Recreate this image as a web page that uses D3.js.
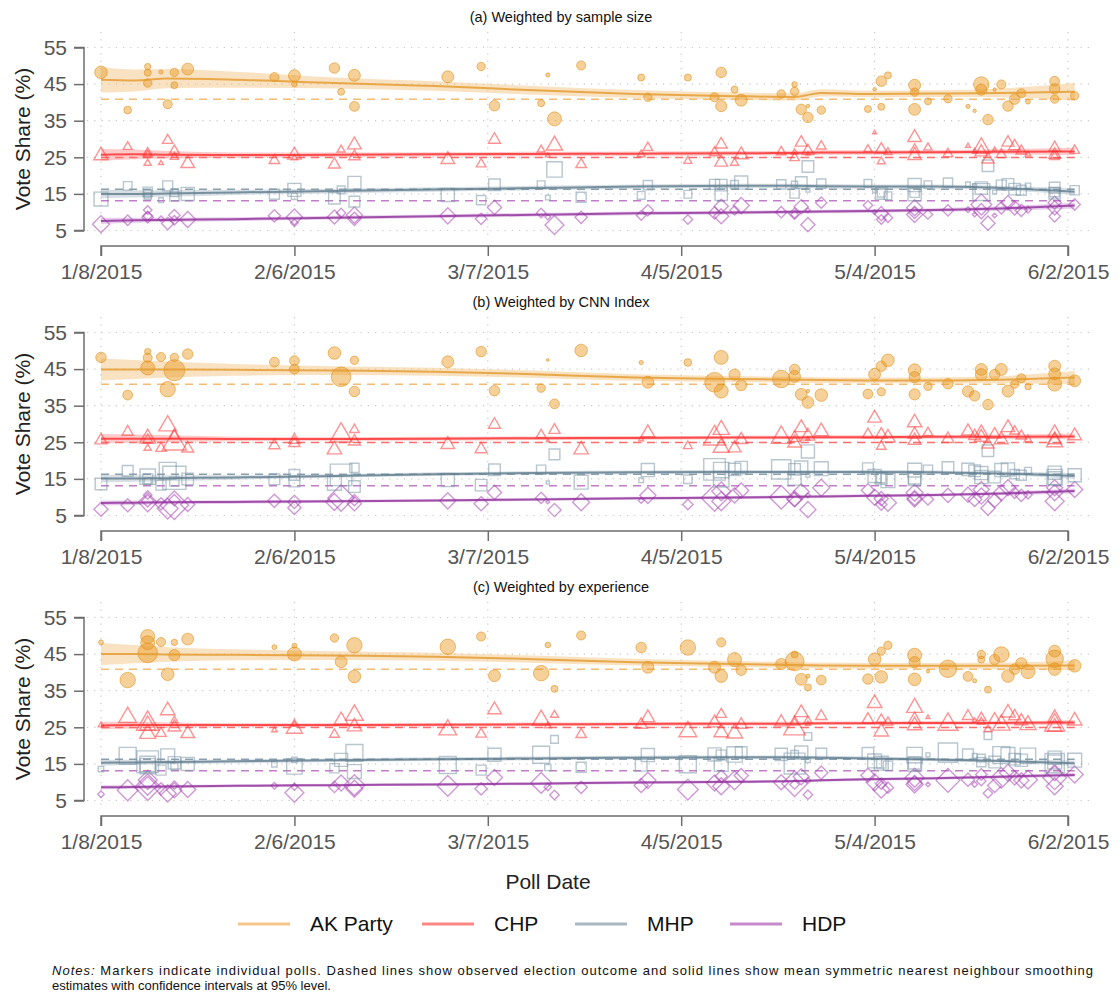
<!DOCTYPE html>
<html>
<head>
<meta charset="utf-8">
<script src="https://cdn.jsdelivr.net/npm/d3@7"></script>
<style>
  body { margin: 0; background: #fff; }
  svg { display: block; font-family: "Liberation Sans", Arial, sans-serif; }
</style>
</head>
<body>
<svg id="chart" width="1119" height="996"></svg>
<script>
// ---- Individual polls (fieldwork date, vote shares in %, and the three weights) ----
const pollDates = [
  "2015-01-08","2015-01-12","2015-01-15","2015-01-15","2015-01-15","2015-01-17","2015-01-18","2015-01-19",
  "2015-01-19","2015-01-21","2015-02-03","2015-02-06","2015-02-06","2015-02-12","2015-02-13","2015-02-15",
  "2015-02-15","2015-03-01","2015-03-06","2015-03-08","2015-03-15","2015-03-16","2015-03-17","2015-03-21",
  "2015-03-30","2015-03-31","2015-04-06","2015-04-10","2015-04-11","2015-04-11","2015-04-13","2015-04-14",
  "2015-04-20","2015-04-22","2015-04-22","2015-04-23","2015-04-24","2015-04-24","2015-04-26","2015-05-03",
  "2015-05-04","2015-05-05","2015-05-05","2015-05-06","2015-05-10","2015-05-10","2015-05-10","2015-05-12",
  "2015-05-15","2015-05-18","2015-05-19","2015-05-20","2015-05-20","2015-05-21","2015-05-22","2015-05-23",
  "2015-05-24","2015-05-25","2015-05-26","2015-05-27","2015-05-31","2015-05-31","2015-05-31","2015-06-03"
];
const akParty = [
  48.2,37.9,49.8,48.1,45.3,48.3,39.5,48.2, 44.7,49.1,46.9,47.3,45.0,49.4,42.9,47.4,
  38.9,47.0,49.8,39.1,39.8,47.5,35.5,50.1, 46.8,41.4,46.8,41.4,48.2,39.0,43.5,40.6,
  42.3,44.9,43.0,38.1,35.9,39.0,37.9,38.2, 43.6,45.8,38.8,47.4,44.7,42.8,38.1,40.3,
  41.0,38.9,37.7,44.9,43.5,35.3,43.5,44.9, 39.0,40.9,42.5,40.2,45.8,43.7,40.9,41.8
];
const chp = [
  25.7,28.0,23.5,25.8,26.3,23.5,29.8,27.0, 25.2,23.5,24.3,25.8,24.9,23.2,27.2,28.6,
  25.4,24.6,23.3,30.0,27.2,25.5,28.5,23.2, 25.9,27.8,24.1,26.4,28.7,23.8,23.6,25.9,
  26.6,26.4,25.0,29.2,26.9,26.0,28.2,27.3, 31.8,27.3,24.0,26.5,30.6,27.3,25.7,27.8,
  26.1,28.2,26.9,27.8,26.6,24.6,27.3,25.9, 29.2,28.2,26.9,25.9,27.8,25.9,25.3,27.0
];
const mhp = [
  13.6,17.2,14.4,15.0,15.6,13.3,17.2,14.3, 15.3,15.0,14.9,16.1,14.3,13.8,16.1,18.0,
  12.9,14.7,13.3,17.5,17.5,14.0,21.7,14.1, 14.6,17.4,14.9,17.6,17.4,14.9,17.6,18.1,
  17.6,17.6,15.1,18.1,22.5,16.0,17.8,17.9, 15.8,15.1,15.2,14.5,17.4,15.3,14.9,17.5,
  18.1,17.6,17.2,15.5,16.6,22.7,15.5,17.4, 17.6,16.3,16.0,17.2,16.7,15.2,15.5,16.0
];
const hdp = [
   6.7, 7.8,10.6, 9.0, 8.6, 8.2, 6.9, 9.2,  7.8, 8.0, 9.0, 8.7, 7.1, 8.7, 9.8, 9.2,
   8.2, 9.0, 8.2,11.3, 9.8, 8.7, 6.5, 8.6,  9.1,10.5, 8.0, 9.8,11.6, 8.9,10.5,11.8,
  10.0, 9.4, 9.6,11.5, 6.6,10.5,12.6,11.9, 10.0, 9.6, 8.0, 8.5,11.2, 9.8, 9.4, 9.4,
  10.5,10.7, 9.4,12.1,10.3, 7.0, 9.1,11.2, 12.6,11.2,10.5,10.7,12.6,11.2, 8.9,12.1
];
// Weights: sample size (respondents), CNN index score, pollster experience score
const sampleSize = [
  3240,1210, 810,1000,1440, 360,1690,1440, 1000,2890,1690,2890, 640,2250,1000,2890,
  1960,2890,1440,2250,1000, 360,4000,1690, 1000,1440,1000,1690,2250,2560,1000,2890,
  1440, 640,1440,2250,2250, 250,1440,1000,  250,2250,1000,1000,2890,1440,2890,1000,
  1440, 360, 250,4840,2560,2250, 250,1690, 2250,2250,1690, 490,1960,2250,1440,1440
];
const cnnIndex = [
  22.5,19.6, 8.1,16.9,40.0,16.9,48.4,14.4, 90.0,22.5,19.6,19.6,19.6,32.4,78.4,14.4,
  22.5,28.9,22.5,22.5,14.4, 1.6,19.6,32.4,  3.6,28.9,12.1,78.4,40.0,40.0,25.6,25.6,
  62.5,22.5,28.9,28.9,28.9, 2.5,32.4,19.6, 28.9,22.5,14.4,32.4,32.4,25.6,25.6,14.4,
  22.5,25.6,22.5,28.9,28.9,22.5,22.5,28.9, 28.9,14.4,16.9, 8.1,28.9,28.9,40.0,28.9
];
const experience = [
   4.9,48.4,40.0,40.0,78.4,16.9,32.4, 8.1, 25.6,28.9, 4.9, 4.9,40.0,14.4,28.9,48.4,
  32.4,48.4,16.9,28.9,48.4, 6.4,10.0,16.9, 22.5,28.9,48.4,28.9,16.9,32.4,40.0,22.5,
  25.6,10.0,72.9,28.9,10.0, 3.6,19.6,22.5, 32.4,14.4,32.4,14.4,40.0,25.6,32.4, 2.5,
  62.5,19.6, 3.6,14.4,10.0,10.0,22.5,48.4, 32.4,22.5,25.6,40.0,28.9,62.5,32.4,32.4
];

// ---- Observed election outcome, 7 June 2015 (%) ----
const electionResult = [40.87, 24.95, 16.29, 13.12];

// ---- Smoothed estimates: knot dates, fitted mean and 95% half-width ----
const fitDates = ["2015-01-08","2015-01-13","2015-01-18","2015-01-28","2015-02-12","2015-02-27","2015-03-14",
  "2015-03-29","2015-04-13","2015-04-22","2015-04-26","2015-05-03","2015-05-13","2015-05-23","2015-06-03"];
// (a) sample size
const akFitA  = [46.2,46.0,46.5,46.2,45.3,44.5,43.3,42.3,41.7,41.5,42.6,42.3,42.4,42.6,42.9];
const akCiA   = [ 3.5, 3.0, 2.6, 2.2, 1.5, 1.3, 1.2, 1.1, 1.0, 1.0, 1.0, 0.9, 0.9, 1.2, 2.5];
const chpFitA = [25.7,25.8,25.7,25.6,25.7,25.8,25.9,26.0,26.1,26.2,26.3,26.3,26.4,26.5,26.6];
const chpCiA  = [ 1.6, 1.3, 1.0, 0.7, 0.6, 0.6, 0.6, 0.6, 0.6, 0.6, 0.6, 0.6, 0.6, 0.7, 1.0];
const mhpFitA = [15.0,15.0,15.1,15.4,15.8,16.2,16.6,17.0,17.2,17.2,17.1,17.0,17.0,16.6,15.6];
const mhpCiA  = [ 1.2, 1.0, 0.9, 0.7, 0.6, 0.6, 0.6, 0.6, 0.6, 0.6, 0.6, 0.6, 0.6, 0.6, 0.9];
const hdpFitA = [ 7.6, 7.8, 7.9, 8.1, 8.5, 8.9, 9.3, 9.7, 9.9,10.1,10.2,10.3,10.6,11.0,11.8];
const hdpCiA  = [ 0.8, 0.7, 0.6, 0.5, 0.5, 0.5, 0.5, 0.5, 0.5, 0.5, 0.5, 0.5, 0.5, 0.6, 0.8];
// (b) CNN index
const akFitB  = [44.9,44.9,44.9,44.8,44.6,44.3,43.6,42.7,42.3,42.1,42.0,41.9,41.9,42.1,42.7];
const akCiB   = [ 3.0, 2.6, 2.2, 1.6, 1.2, 1.1, 1.0, 0.9, 0.8, 0.8, 0.8, 0.8, 0.8, 1.0, 1.8];
const chpFitB = [26.0,26.0,26.0,25.9,25.9,26.0,26.1,26.2,26.3,26.3,26.4,26.4,26.5,26.5,26.6];
const chpCiB  = [ 1.3, 1.1, 0.9, 0.6, 0.5, 0.5, 0.5, 0.5, 0.5, 0.5, 0.5, 0.5, 0.5, 0.6, 0.8];
const mhpFitB = [15.1,15.1,15.2,15.4,15.8,16.3,16.6,16.8,16.9,16.9,16.9,16.9,16.8,16.5,15.8];
const mhpCiB  = [ 1.0, 0.9, 0.8, 0.6, 0.5, 0.5, 0.5, 0.5, 0.5, 0.5, 0.5, 0.5, 0.5, 0.5, 0.8];
const hdpFitB = [ 8.4, 8.5, 8.6, 8.7, 8.9, 9.1, 9.4, 9.7, 9.9,10.1,10.2,10.4,10.6,11.0,11.7];
const hdpCiB  = [ 0.7, 0.6, 0.5, 0.5, 0.4, 0.4, 0.4, 0.4, 0.4, 0.4, 0.4, 0.4, 0.4, 0.5, 0.7];
// (c) experience
const akFitC  = [45.0,45.0,44.9,44.8,44.6,44.3,43.6,42.8,42.3,42.0,41.9,41.8,41.8,41.8,41.9];
const akCiC   = [ 3.0, 2.5, 2.0, 1.5, 1.2, 1.1, 1.0, 0.9, 0.8, 0.8, 0.8, 0.8, 0.8, 0.9, 1.3];
const chpFitC = [25.5,25.6,25.6,25.6,25.6,25.7,25.8,25.9,26.0,26.0,26.1,26.1,26.2,26.2,26.3];
const chpCiC  = [ 1.0, 0.9, 0.7, 0.5, 0.5, 0.5, 0.5, 0.5, 0.5, 0.5, 0.5, 0.5, 0.5, 0.5, 0.7];
const mhpFitC = [15.3,15.4,15.5,15.7,16.0,16.3,16.5,16.7,16.8,16.8,16.7,16.5,16.2,15.8,15.2];
const mhpCiC  = [ 0.8, 0.7, 0.6, 0.5, 0.5, 0.5, 0.5, 0.5, 0.5, 0.5, 0.5, 0.5, 0.5, 0.5, 0.7];
const hdpFitC = [ 8.6, 8.7, 8.8, 9.0, 9.2, 9.4, 9.6, 9.9,10.1,10.3,10.5,10.8,11.1,11.5,12.0];
const hdpCiC  = [ 0.6, 0.5, 0.5, 0.4, 0.4, 0.4, 0.4, 0.4, 0.4, 0.4, 0.4, 0.4, 0.4, 0.5, 0.6];

// ---- Axes ----
const yTicks = [5, 15, 25, 35, 45, 55];
const xTickDates = ["2015-01-08","2015-02-06","2015-03-07","2015-04-05","2015-05-04","2015-06-02"];
const partyNames = ["AK Party", "CHP", "MHP", "HDP"];
const panelTitles = ["(a) Weighted by sample size", "(b) Weighted by CNN Index", "(c) Weighted by experience"];

// ---------------------------------------------------------------------------
const parse = d3.utcParse("%Y-%m-%d");
const fmt = d3.utcFormat("%-m/%-d/%Y");
const polls = pollDates.map((d, i) => ({
  date: parse(d), vals: [akParty[i], chp[i], mhp[i], hdp[i]],
  w: [sampleSize[i], cnnIndex[i], experience[i]]
}));
const knots = fitDates.map(parse);

const style = [
  { mark: "#E8961C", stroke: "#DE8A10", line: "#E49A2A", band: "#F2BE78", dash: "#F3BC74", legend: "#F5C58C", shape: "circle" },
  { mark: "#FF3B3B", stroke: "#FF3B3B", line: "#FF2A2A", band: "#FF8A8A", dash: "#FF6E6E", legend: "#FF8585", shape: "triangle" },
  { mark: "#7D98A8", stroke: "#7D98A8", line: "#5F7C8D", band: "#A3B5C1", dash: "#8AA0AE", legend: "#A9B8C3", shape: "square" },
  { mark: "#A646B2", stroke: "#A646B2", line: "#8E2E9A", band: "#C88ED0", dash: "#C27DC8", legend: "#C68ACB", shape: "diamond" }
];

const fits = [
  [[akFitA, akCiA], [chpFitA, chpCiA], [mhpFitA, mhpCiA], [hdpFitA, hdpCiA]],
  [[akFitB, akCiB], [chpFitB, chpCiB], [mhpFitB, mhpCiB], [hdpFitB, hdpCiB]],
  [[akFitC, akCiC], [chpFitC, chpCiC], [mhpFitC, mhpCiC], [hdpFitC, hdpCiC]]
];
const radius = [
  d3.scaleSqrt().domain([0, 4000]).range([0, 7.0]),
  d3.scaleSqrt().domain([0, 40]).range([0, 7.0]),
  d3.scaleSqrt().domain([0, 40]).range([0, 7.0])
];

const svg = d3.select("#chart");
const x = d3.scaleUtc().domain([parse("2015-01-08"), parse("2015-06-02")]).range([101, 1068]);
const plotLeft = 87, plotRight = 1095;

function markerPath(shape, cx, cy, r) {
  if (shape === "circle") {
    return `M${cx - r},${cy}a${r},${r} 0 1,0 ${2 * r},0a${r},${r} 0 1,0 ${-2 * r},0Z`;
  }
  if (shape === "triangle") {
    const hw = 1.15 * r, h = hw * Math.sqrt(3);
    return `M${cx},${cy - h * 0.6}L${cx + hw},${cy + h * 0.4}L${cx - hw},${cy + h * 0.4}Z`;
  }
  if (shape === "square") {
    const s = 1.1 * r;
    return `M${cx - s},${cy - s}H${cx + s}V${cy + s}H${cx - s}Z`;
  }
  const d = 1.35 * r;
  return `M${cx},${cy - d}L${cx + d},${cy}L${cx},${cy + d}L${cx - d},${cy}Z`;
}

panelTitles.forEach((title, p) => {
  const off = p * 285;
  const g = svg.append("g");
  const y = d3.scaleLinear().domain([5, 55]).range([230.5 + off, 47.5 + off]);
  const top = 32 + off, bottom = 237 + off;

  g.append("text").attr("x", 561).attr("y", 22 + off).attr("text-anchor", "middle")
    .attr("font-size", 14.5).attr("fill", "#111").text(title);

  // dotted grid
  g.selectAll(".hg").data(yTicks).join("line")
    .attr("x1", plotLeft).attr("x2", plotRight)
    .attr("y1", d => y(d)).attr("y2", d => y(d))
    .attr("stroke", "#c8c8c8").attr("stroke-width", 1.2).attr("stroke-dasharray", "1.2,6");
  g.selectAll(".vg").data(xTickDates.map(parse)).join("line")
    .attr("x1", d => x(d)).attr("x2", d => x(d))
    .attr("y1", top).attr("y2", bottom)
    .attr("stroke", "#c8c8c8").attr("stroke-width", 1.2).attr("stroke-dasharray", "1.2,6");

  // confidence bands
  fits[p].forEach(([fit, ci], k) => {
    const area = d3.area().curve(d3.curveMonotoneX)
      .x((d, i) => x(knots[i])).y0((d, i) => y(fit[i] - ci[i])).y1((d, i) => y(fit[i] + ci[i]));
    g.append("path").datum(fit).attr("d", area)
      .attr("fill", style[k].band).attr("fill-opacity", 0.45);
  });

  // election outcome
  electionResult.forEach((v, k) => {
    g.append("line").attr("x1", x(parse("2015-01-08"))).attr("x2", x(parse("2015-06-03")))
      .attr("y1", y(v)).attr("y2", y(v))
      .attr("stroke", style[k].dash).attr("stroke-width", 1.6).attr("stroke-dasharray", "8,6");
  });

  // poll markers
  [3, 2, 1, 0].forEach(k => {
    const st = style[k];
    g.append("g").selectAll("path").data(polls).join("path")
      .attr("d", d => markerPath(st.shape, x(d.date), y(d.vals[k]), radius[p](d.w[p])))
      .attr("fill", k === 0 ? st.mark : "none")
      .attr("fill-opacity", k === 0 ? 0.45 : 0)
      .attr("stroke", st.stroke)
      .attr("stroke-opacity", k === 0 ? 0.55 : 0.55)
      .attr("stroke-width", k === 0 ? 1 : 1.4);
  });

  // smoothed lines
  fits[p].forEach(([fit], k) => {
    const line = d3.line().curve(d3.curveMonotoneX).x((d, i) => x(knots[i])).y(d => y(d));
    g.append("path").datum(fit).attr("d", line)
      .attr("fill", "none").attr("stroke", style[k].line).attr("stroke-width", 2).attr("stroke-opacity", 0.8);
  });

  // y axis
  const yAxis = d3.axisLeft(y).tickValues(yTicks).tickSize(10).tickPadding(7);
  const ya = g.append("g").attr("transform", "translate(84,0)").call(yAxis);
  ya.select(".domain").attr("stroke", "#6e6e6e").attr("stroke-width", 1.5)
    .attr("d", `M-10,${y(55)}H0V${y(5)}H-10`);
  ya.selectAll(".tick line").attr("stroke", "#6e6e6e").attr("stroke-width", 1.5);
  ya.selectAll(".tick text").attr("font-size", 21).attr("fill", "#555")
    .attr("font-family", "Liberation Sans, Arial, sans-serif");

  // x axis
  const xAxis = d3.axisBottom(x).tickValues(xTickDates.map(parse)).tickFormat(fmt).tickSize(10).tickPadding(8);
  const xa = g.append("g").attr("transform", `translate(0,${246 + off})`).call(xAxis);
  xa.select(".domain").attr("stroke", "#6e6e6e").attr("stroke-width", 1.5)
    .attr("d", `M${x.range()[0]},10V0H${x.range()[1]}V10`);
  xa.selectAll(".tick line").attr("stroke", "#6e6e6e").attr("stroke-width", 1.5);
  xa.selectAll(".tick text").attr("font-size", 21).attr("fill", "#555")
    .attr("font-family", "Liberation Sans, Arial, sans-serif");

  g.append("text").attr("transform", `translate(30,${139 + off}) rotate(-90)`)
    .attr("text-anchor", "middle").attr("font-size", 21).attr("fill", "#222").text("Vote Share (%)");
});

// x-axis title
svg.append("text").attr("x", 548).attr("y", 889).attr("text-anchor", "middle")
  .attr("font-size", 21).attr("fill", "#222").text("Poll Date");

// legend
const legendX = [238, 422, 575, 730];
partyNames.forEach((name, k) => {
  svg.append("line").attr("x1", legendX[k]).attr("x2", legendX[k] + 52)
    .attr("y1", 924).attr("y2", 924).attr("stroke", style[k].legend).attr("stroke-width", 3);
  svg.append("text").attr("x", legendX[k] + 72).attr("y", 931)
    .attr("font-size", 21).attr("fill", "#111").text(name);
});

// notes
const notes = svg.append("text").attr("x", 52).attr("y", 975).attr("font-size", 13).attr("fill", "#111")
  .attr("textLength", 1041).attr("lengthAdjust", "spacing");
notes.append("tspan").attr("font-style", "italic").text("Notes:");
notes.append("tspan").text(" Markers indicate individual polls. Dashed lines show observed election outcome and solid lines show mean symmetric nearest neighbour smoothing");
svg.append("text").attr("x", 52).attr("y", 990).attr("font-size", 13).attr("fill", "#111")
  .text("estimates with confidence intervals at 95% level.");
</script>
</body>
</html>
